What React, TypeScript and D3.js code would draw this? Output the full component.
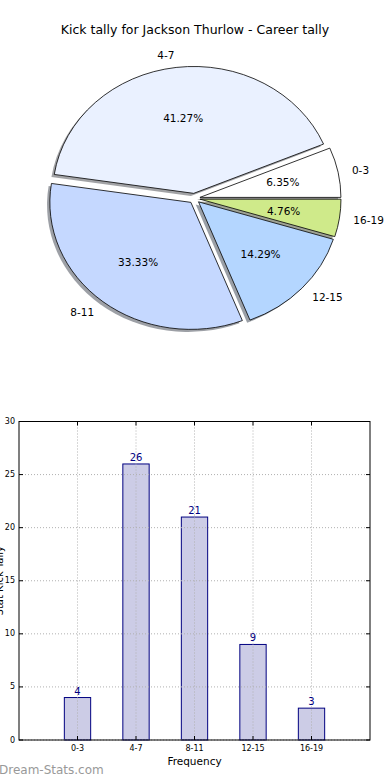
import * as d3 from 'd3';

const categories = ['0-3', '4-7', '8-11', '12-15', '16-19'];
const tally = [4, 26, 21, 9, 3];
const pieColors = ['#ffffff', '#eaf1ff', '#c5d8ff', '#b4d6ff', '#cfea8a'];
const yTicks = [0, 5, 10, 15, 20, 25, 30];

const W = 390;
const H = 780;
const FONT = '"DejaVu Sans", sans-serif';

// pie geometry (matplotlib style, stretched into an ellipse)
const cx = 194.4;
const cy = 198.4;
const rx = 141;
const ry = 127;
const explode = 0.04;

const PieChart = () => {
  const total = d3.sum(tally);
  const pie = d3.pie<number>()
    .sort(null)
    .startAngle(Math.PI / 2)
    .endAngle(Math.PI / 2 - 2 * Math.PI);
  const arcs = pie(tally);
  const arc = d3.arc<d3.PieArcDatum<number>>().innerRadius(0).outerRadius(1);

  const slices = arcs.map((a, i) => {
    const mid = (a.startAngle + a.endAngle) / 2;
    const ux = Math.sin(mid);
    const uy = -Math.cos(mid);
    const vx = cx + explode * rx * ux;
    const vy = cy + explode * ry * uy;
    return { a, i, ux, uy, vx, vy, d: arc(a) || '' };
  });

  return (
    <g>
      {slices.map(s => {
        const c = d3.rgb(pieColors[s.i]);
        const shade = d3.rgb(c.r * 0.3, c.g * 0.3, c.b * 0.3).toString();
        return (
          <path key={'sh' + s.i} d={s.d}
            transform={`translate(${s.vx - 0.02 * rx},${s.vy + 0.02 * ry}) scale(${rx},${ry})`}
            fill={shade} fillOpacity={0.5} stroke="none" />
        );
      })}
      {slices.map(s => (
        <path key={'w' + s.i} d={s.d}
          transform={`translate(${s.vx},${s.vy}) scale(${rx},${ry})`}
          fill={pieColors[s.i]} stroke="#000" strokeWidth={0.8}
          vectorEffect="non-scaling-stroke" strokeLinejoin="round" />
      ))}
      {slices.map(s => (
        <text key={'p' + s.i} x={s.vx + 0.6 * rx * s.ux} y={s.vy + 0.6 * ry * s.uy}
          textAnchor="middle" dominantBaseline="central" fontSize={10.5}>
          {((tally[s.i] / total) * 100).toFixed(2)}%
        </text>
      ))}
      {slices.map(s => (
        <text key={'l' + s.i} x={s.vx + 1.1 * rx * s.ux} y={s.vy + 1.1 * ry * s.uy}
          textAnchor={s.ux > 0 ? 'start' : 'end'} dominantBaseline="central" fontSize={10.5}>
          {categories[s.i]}
        </text>
      ))}
    </g>
  );
};

const BarChart = () => {
  const left = 19;
  const right = 370;
  const top = 421.5;
  const bottom = 740;
  const x = d3.scaleLinear().domain([-1, 5]).range([left, right]);
  const y = d3.scaleLinear().domain([0, 30]).range([bottom, top]);
  const bw = x(0.45) - x(0);

  return (
    <g>
      {tally.map((v, i) => (
        <rect key={'b' + i} x={x(i) - bw / 2} y={y(v)} width={bw} height={y(0) - y(v)}
          fill="#ccccE6" stroke="#000080" strokeWidth={1} />
      ))}
      {yTicks.map(t => (
        <line key={'gy' + t} x1={left} x2={right} y1={y(t)} y2={y(t)}
          stroke="#b0b0b0" strokeWidth={1} strokeDasharray="1,2" />
      ))}
      {categories.map((c, i) => (
        <line key={'gx' + c} x1={x(i)} x2={x(i)} y1={top} y2={bottom}
          stroke="#b0b0b0" strokeWidth={1} strokeDasharray="1,2" />
      ))}
      <rect x={left} y={top} width={right - left} height={bottom - top}
        fill="none" stroke="#000" strokeWidth={1} />
      {yTicks.map(t => (
        <g key={'ty' + t}>
          <line x1={left} x2={left + 4} y1={y(t)} y2={y(t)} stroke="#000" />
          <line x1={right - 4} x2={right} y1={y(t)} y2={y(t)} stroke="#000" />
          <text x={left - 4} y={y(t)} textAnchor="end" dominantBaseline="central" fontSize={8}>{t}</text>
        </g>
      ))}
      {categories.map((c, i) => (
        <g key={'tx' + c}>
          <line x1={x(i)} x2={x(i)} y1={bottom} y2={bottom - 4} stroke="#000" />
          <line x1={x(i)} x2={x(i)} y1={top} y2={top + 4} stroke="#000" />
          <text x={x(i)} y={bottom + 11} textAnchor="middle" fontSize={8}>{c}</text>
        </g>
      ))}
      {tally.map((v, i) => (
        <text key={'v' + i} x={x(i)} y={y(v) - 3} textAnchor="middle" fontSize={10} fill="#000080">{v}</text>
      ))}
      <text x={(left + right) / 2} y={765} textAnchor="middle" fontSize={10.5}>Frequency</text>
      <text transform={`translate(3,${(top + bottom) / 2}) rotate(-90)`} textAnchor="middle" fontSize={10}>Stat Kick Tally</text>
    </g>
  );
};

export default function App() {
  return (
    <svg width={W} height={H} viewBox={`0 0 ${W} ${H}`}
      style={{ position: 'absolute', left: 0, top: 0, background: '#fff' }}
      fontFamily={FONT}>
      <rect width={W} height={H} fill="#fff" />
      <text x={195} y={34} textAnchor="middle" fontSize={12.5}>Kick tally for Jackson Thurlow - Career tally</text>
      <PieChart />
      <BarChart />
      <text x={-1} y={774} fontSize={12} fill="#999">Dream-Stats.com</text>
    </svg>
  );
}
